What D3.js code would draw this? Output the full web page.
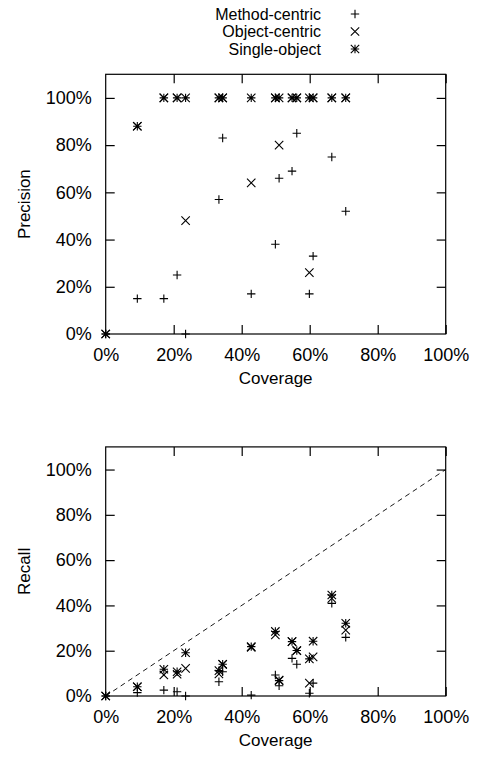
<!DOCTYPE html>
<html>
<head>
<meta charset="utf-8">
<script src="https://cdn.jsdelivr.net/npm/d3@7"></script>
<style>
  body { margin: 0; background: #fff; }
  svg { display: block; }
  text { font-family: "Liberation Sans", Arial, sans-serif; fill: #000; }
</style>
</head>
<body>
<svg id="chart" width="477" height="762"></svg>
<script>
// series names, in legend order
var seriesNames = ["Method-centric", "Object-centric", "Single-object"];
var seriesSymbols = ["plus", "cross", "star"];

// coverage of each subject (shared by both plots)
var coverage = [0, 0.093, 0.171, 0.210, 0.235, 0.333, 0.344, 0.428, 0.499, 0.510, 0.548, 0.562, 0.599, 0.610, 0.665, 0.706];

// precision per approach
var methodPrecision = [0, 0.15, 0.15, 0.25, 0, 0.57, 0.83, 0.17, 0.38, 0.66, 0.69, 0.85, 0.17, 0.33, 0.75, 0.52];
var objectPrecision = [0, 0.88, 1, 1, 0.48, 1, 1, 0.64, 1, 0.80, 1, 1, 0.26, 1, 1, 1];
var singlePrecision = [0, 0.88, 1, 1, 1, 1, 1, 1, 1, 1, 1, 1, 1, 1, 1, 1];

// recall per approach
var methodRecall = [0, 0.015, 0.026, 0.019, 0, 0.063, 0.107, 0.004, 0.093, 0.045, 0.166, 0.140, 0.012, 0.057, 0.409, 0.259];
var objectRecall = [0, 0.041, 0.093, 0.096, 0.122, 0.097, 0.140, 0.215, 0.270, 0.070, 0.240, 0.200, 0.057, 0.173, 0.431, 0.291];
var singleRecall = [0, 0.041, 0.118, 0.107, 0.191, 0.112, 0.140, 0.218, 0.285, 0.068, 0.240, 0.201, 0.164, 0.242, 0.446, 0.321];

var tickValues = [0, 0.2, 0.4, 0.6, 0.8, 1];

var svg = d3.select("#chart");
var fmt = d3.format(".0%");
var left = 105.7, right = 445.7, tick = 9;

function symbolPath(kind) {
  var r = 4.2;
  var plus = "M" + (-r) + ",0H" + r + "M0," + (-r) + "V" + r;
  var cross = "M" + (-r) + "," + (-r) + "L" + r + "," + r + "M" + (-r) + "," + r + "L" + r + "," + (-r);
  if (kind == "plus") return plus;
  if (kind == "cross") return cross;
  return plus + cross;
}

function drawPlot(top, bottom, yLabel, seriesValues, diagonal) {
  var x = d3.scaleLinear().domain([0, 1]).range([left, right]);
  var y = d3.scaleLinear().domain([0, 1.1]).range([bottom, top]);
  var g = svg.append("g");

  // frame
  g.append("rect")
    .attr("x", left).attr("y", top)
    .attr("width", right - left).attr("height", bottom - top)
    .attr("fill", "none").attr("stroke", "#000").attr("stroke-width", 1.2);

  var axes = [
    [d3.axisBottom(x), bottom, null, true],
    [d3.axisTop(x), top, null, false],
    [d3.axisLeft(y), null, left, true],
    [d3.axisRight(y), null, right, false]
  ];
  axes.forEach(function(a) {
    var ax = a[0].tickValues(tickValues).tickSizeInner(-tick).tickSizeOuter(0)
      .tickPadding(tick + 5).tickFormat(a[3] ? fmt : "");
    var ag = g.append("g")
      .attr("transform", "translate(" + (a[2] == null ? 0 : a[2]) + "," + (a[1] == null ? 0 : a[1]) + ")")
      .call(ax);
    ag.select(".domain").remove();
    ag.selectAll("line").attr("stroke", "#000").attr("stroke-width", 1.2);
    ag.selectAll("text").attr("font-size", 18).attr("font-family", "Liberation Sans, Arial, sans-serif").attr("fill", "#000");
  });
  // these edge ticks lie on the frame itself
  g.selectAll(".tick").filter(function(d) { return d == 0; }).select("line").remove();

  if (diagonal) {
    g.append("line")
      .attr("x1", x(0)).attr("y1", y(0)).attr("x2", x(1)).attr("y2", y(1))
      .attr("stroke", "#000").attr("stroke-width", 0.9)
      .attr("stroke-dasharray", "5,4");
  }

  seriesValues.forEach(function(vals, si) {
    var pts = coverage.map(function(c, i) { return [c, vals[i]]; });
    g.append("g").selectAll("path")
      .data(pts)
      .enter().append("path")
      .attr("transform", function(d) { return "translate(" + x(d[0]) + "," + y(d[1]) + ")"; })
      .attr("d", symbolPath(seriesSymbols[si]))
      .attr("fill", "none").attr("stroke", "#000").attr("stroke-width", 1.1);
  });

  g.append("text")
    .attr("x", (left + right) / 2).attr("y", bottom + 50)
    .attr("text-anchor", "middle").attr("font-size", 17)
    .text("Coverage");

  g.append("text")
    .attr("transform", "translate(30," + ((top + bottom) / 2) + ") rotate(-90)")
    .attr("text-anchor", "middle").attr("font-size", 17)
    .text(yLabel);
}

drawPlot(74.3, 334, "Precision", [methodPrecision, objectPrecision, singlePrecision], false);
drawPlot(446.9, 696, "Recall", [methodRecall, objectRecall, singleRecall], true);

// legend
var legend = svg.append("g");
seriesNames.forEach(function(name, i) {
  var yy = 14 + i * 17.5;
  legend.append("text")
    .attr("x", 321).attr("y", yy).attr("dy", "0.35em")
    .attr("text-anchor", "end").attr("font-size", 16)
    .text(name);
  legend.append("path")
    .attr("transform", "translate(355," + yy + ")")
    .attr("d", symbolPath(seriesSymbols[i]))
    .attr("fill", "none").attr("stroke", "#000").attr("stroke-width", 1.1);
});
</script>
</body>
</html>
